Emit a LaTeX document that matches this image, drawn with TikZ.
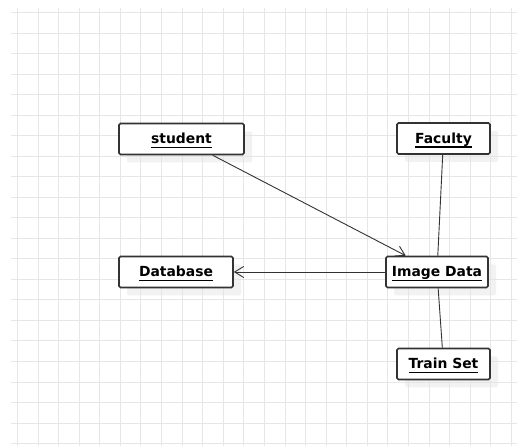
\documentclass[tikz,border=0pt]{standalone}
\usepackage{fontspec}
\setmainfont{DejaVu Sans}
\usetikzlibrary{arrows.meta, shadows}
\definecolor{gridgray}{HTML}{E6E6E6}
\definecolor{inkgray}{HTML}{333333}
\newcommand{\ulname}[1]{\leavevmode\setbox0=\hbox{#1}\copy0\kern-\wd0
  \raisebox{-4.1pt}{\rule{\wd0}{1.1pt}}}

\begin{document}
\begin{tikzpicture}[x=1pt, y=-1pt,
every edge/.style = {draw=inkgray, line width=0.9pt},
>={Straight Barb[length=9pt,width=11pt]},
 cls/.style = {%
      rectangle, draw=inkgray, line width=1.6pt, fill=white,
      rounded corners=1.5pt, minimum width=#1, minimum height=31pt,
      text height=10pt, text depth=0pt, inner sep=0pt,
      font=\bfseries\fontsize{13.9}{16}\selectfont,
      drop shadow={shadow xshift=8pt, shadow yshift=-8pt, fill=black!10}}
                    ]
\useasboundingbox (0,0) rectangle (517,446);
\foreach \i in {0,...,24}{
  \pgfmathsetmacro{\gx}{17.5+round(20.58*\i)}
  \draw[gridgray, line width=1pt] (\gx, 8) -- (\gx, 446);}
\foreach \j in {0,...,21}{
  \pgfmathsetmacro{\gy}{12.5+round(20.53*\j)}
  \draw[gridgray, line width=1pt] (11, \gy) -- (517, \gy);}
%
\node(S) [cls=125pt] at (181.5,139) {\ulname{student}};
\node(F) [cls=93pt]  at (443.5,138.5) {\ulname{Faculty}};
\node(D) [cls=114pt] at (176,272) {\ulname{Database}};
\node(I) [cls=102pt] at (437,272) {\ulname{Image Data}};
\node(T) [cls=93pt]  at (443.5,364) {\ulname{Train Set}};
%
\path   (S) edge[->] (I)
        (I) edge[->] (D)
        (F) edge (I)
        (I) edge (T);
\end{tikzpicture}
\end{document}
